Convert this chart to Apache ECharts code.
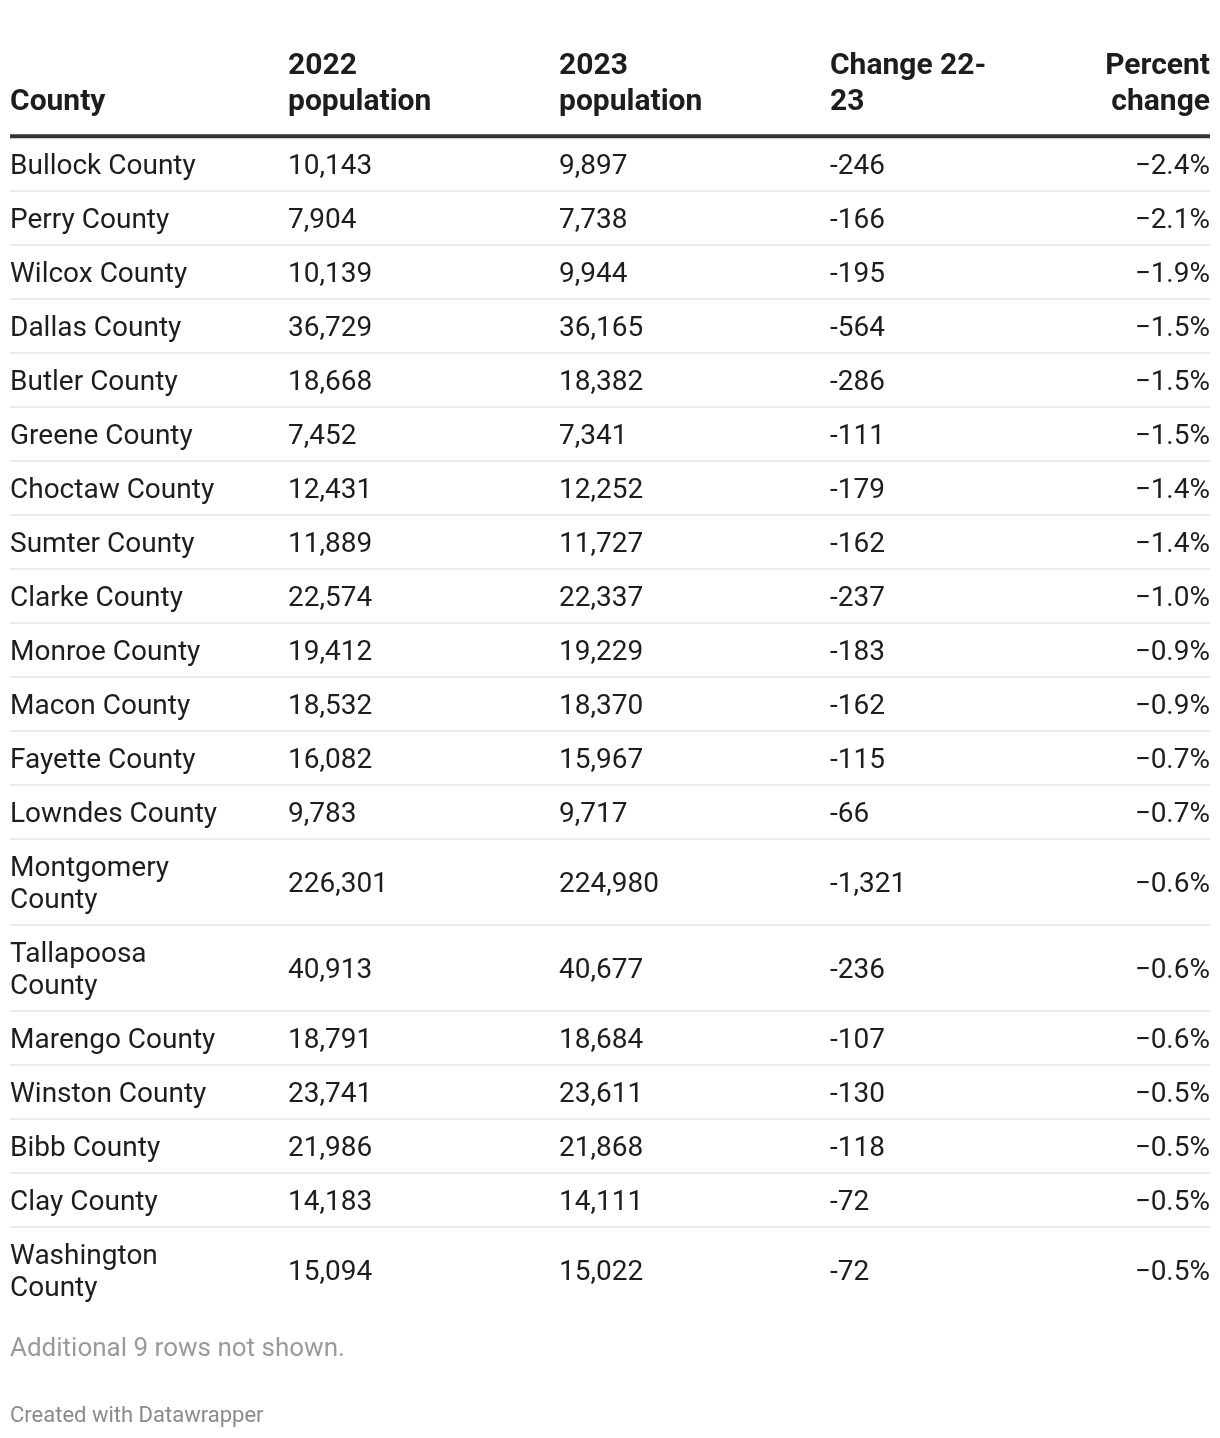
<!DOCTYPE html>
<html><head><meta charset="utf-8">
<script src="https://cdn.jsdelivr.net/npm/echarts@6/dist/echarts.min.js"></script>
<style>html,body{margin:0;padding:0;background:#fff}#chart{width:1220px;height:1438px}</style>
</head><body><div id="chart"></div>
<script>
// ---------- data ----------
const headerLabels = ["County", "2022\npopulation", "2023\npopulation", "Change 22-\n23", "Percent\nchange"];
const counties = ["Bullock County","Perry County","Wilcox County","Dallas County","Butler County","Greene County","Choctaw County","Sumter County","Clarke County","Monroe County","Macon County","Fayette County","Lowndes County","Montgomery County","Tallapoosa County","Marengo County","Winston County","Bibb County","Clay County","Washington County"];
const pop2022 = [10143,7904,10139,36729,18668,7452,12431,11889,22574,19412,18532,16082,9783,226301,40913,18791,23741,21986,14183,15094];
const pop2023 = [9897,7738,9944,36165,18382,7341,12252,11727,22337,19229,18370,15967,9717,224980,40677,18684,23611,21868,14111,15022];
const change2223 = [-246,-166,-195,-564,-286,-111,-179,-162,-237,-183,-162,-115,-66,-1321,-236,-107,-130,-118,-72,-72];
const percentChange = [-2.4,-2.1,-1.9,-1.5,-1.5,-1.5,-1.4,-1.4,-1.0,-0.9,-0.9,-0.7,-0.7,-0.6,-0.6,-0.6,-0.5,-0.5,-0.5,-0.5];
const footnote = "Additional 9 rows not shown.";
const credit = "Created with Datawrapper";

// ---------- layout / style ----------
const FONT = 'Roboto';
const BODY_SIZE = 28, LINE_H = 32, ROW_PAD = 22;
const HEAD_SIZE = 30, HEAD_WEIGHT = 'bold', HEAD_LINE_H = 36, HEADER_H = 107;
const WRAP_W = 219;
const TEXT_SHIFT = 3;
const colStart = [0, 0.2317, 0.4575, 0.6833, 1];
const colAlign = ['left', 'left', 'left', 'left', 'right'];
const TEXT = '#1d1d1d';

const ctx = document.createElement('canvas').getContext('2d');
ctx.font = BODY_SIZE + 'px ' + FONT;
function wrap(name) {
  const words = name.split(' ');
  const lines = []; let cur = '';
  words.forEach(w => {
    const t = cur ? cur + ' ' + w : w;
    if (cur && ctx.measureText(t).width > WRAP_W) { lines.push(cur); cur = w; } else cur = t;
  });
  lines.push(cur);
  return lines;
}
const nameLines = counties.map(wrap);
const rowH = nameLines.map(l => ROW_PAD + LINE_H * l.length);
const rowTop = [];
let acc = HEADER_H;
rowH.forEach(h => { rowTop.push(acc); acc += h; });
const total = acc;

const fmtInt = v => v.toLocaleString('en-US');
const fmtPct = v => (v < 0 ? '\u2212' : '') + Math.abs(v).toFixed(1) + '%';

const bodyData = counties.map((c, i) => [i, rowTop[i], rowTop[i] + rowH[i]]);

const chart = echarts.init(document.getElementById('chart'), null, {renderer: 'canvas'});
chart.setOption({
  animation: false,
  backgroundColor: '#fff',
  title: [
    {text: footnote, left: 10, top: 1334, padding: 0,
     textStyle: {fontFamily: FONT, fontSize: 26, fontWeight: 'normal', color: '#9a9a9a', lineHeight: 30}},
    {text: credit, left: 10, top: 1403, padding: 0,
     textStyle: {fontFamily: FONT, fontSize: 22, fontWeight: 'normal', color: '#8a8a8a', lineHeight: 26}}
  ],
  grid: {left: 10, width: 1200, top: 30, height: total},
  xAxis: {type: 'value', min: 0, max: 1, show: false},
  yAxis: {type: 'value', min: 0, max: total, inverse: true, show: false},
  series: [
    {
      type: 'custom',
      data: [[0]],
      renderItem: function (params, api) {
        const yText = api.coord([0, HEADER_H - 19])[1] + 2;
        const yLine = api.coord([0, HEADER_H - 0.7])[1];
        const children = headerLabels.map((t, c) => ({
          type: 'text',
          style: {
            text: t, x: api.coord([colStart[c], 0])[0], y: yText,
            align: colAlign[c], verticalAlign: 'bottom',
            fontFamily: FONT, fontSize: HEAD_SIZE, fontWeight: HEAD_WEIGHT,
            lineHeight: HEAD_LINE_H, fill: TEXT
          }
        }));
        children.push({
          type: 'line',
          shape: {x1: api.coord([0, 0])[0], y1: yLine, x2: api.coord([1, 0])[0], y2: yLine},
          style: {stroke: '#333', lineWidth: 4}
        });
        return {type: 'group', children};
      }
    },
    {
      type: 'custom',
      data: bodyData,
      renderItem: function (params, api) {
        const i = api.value(0);
        const top = api.value(1), bottom = api.value(2);
        const yMid = api.coord([0, (top + bottom) / 2])[1] + TEXT_SHIFT;
        const cells = [nameLines[i].join('\n'), fmtInt(pop2022[i]), fmtInt(pop2023[i]), fmtInt(change2223[i]), fmtPct(percentChange[i])];
        const children = cells.map((t, c) => ({
          type: 'text',
          style: {
            text: t, x: api.coord([colStart[c], 0])[0], y: yMid,
            align: colAlign[c], verticalAlign: 'middle',
            fontFamily: FONT, fontSize: BODY_SIZE, fontWeight: 'normal',
            lineHeight: LINE_H, fill: TEXT
          }
        }));
        if (i < counties.length - 1) {
          const yb = api.coord([0, bottom])[1];
          children.push({
            type: 'line',
            shape: {x1: api.coord([0, 0])[0], y1: yb, x2: api.coord([1, 0])[0], y2: yb},
            style: {stroke: '#ebebeb', lineWidth: 2}
          });
        }
        return {type: 'group', children};
      }
    }
  ]
});
</script>
</body></html>
